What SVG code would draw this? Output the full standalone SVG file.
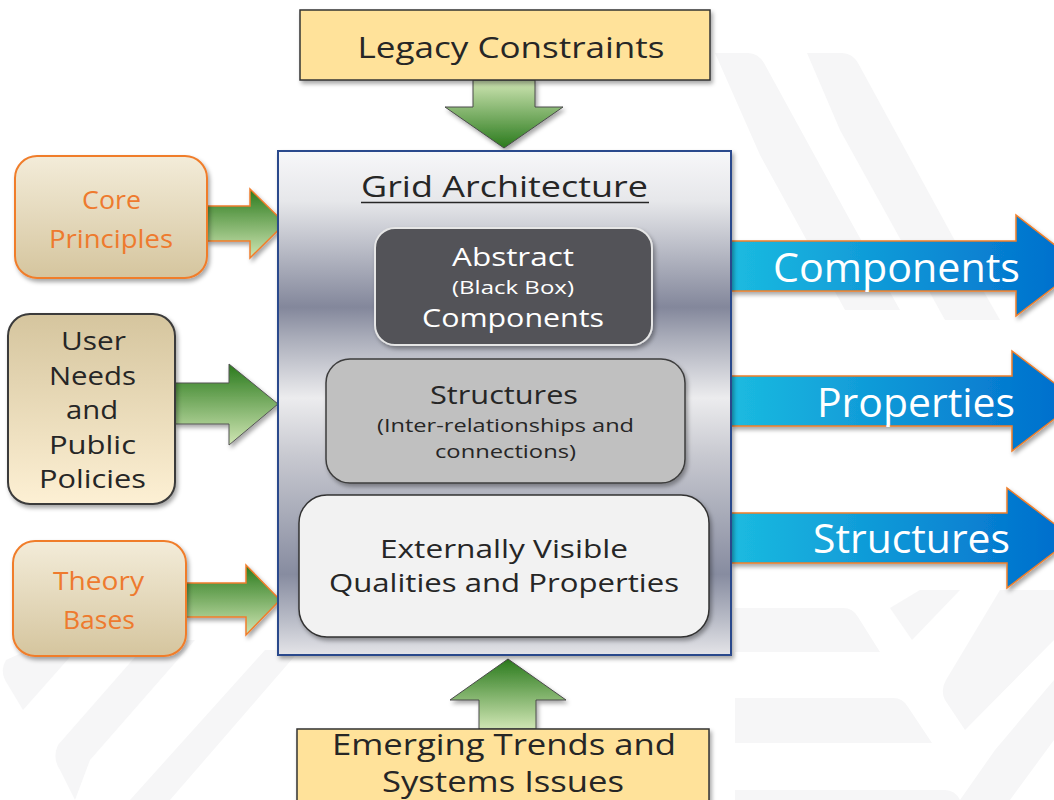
<svg xmlns="http://www.w3.org/2000/svg" width="1054" height="800" viewBox="0 0 1054 800">
<defs>
<style>
text{font-family:"Open Sans","Liberation Sans",sans-serif;}
.dark{fill:#262626;}
.org{fill:#EE7A2E;}
.wht{fill:#ffffff;}
.wm{fill:#f6f6f7;}
.blue{fill:url(#gBlue);stroke:#F07F2A;stroke-width:1.5;filter:url(#sh);}
.ylw{fill:#FFE29A;stroke:#333;stroke-width:1.5;filter:url(#sh);}
</style>
<filter id="sh" x="-10%" y="-10%" width="130%" height="140%">
<feDropShadow dx="2" dy="3" stdDeviation="2" flood-color="#000" flood-opacity="0.35"/>
</filter>
<linearGradient id="gMain" x1="0" y1="0" x2="0" y2="1">
<stop offset="0" stop-color="#f7f7f9"/>
<stop offset="0.1" stop-color="#e6e7ea"/>
<stop offset="0.31" stop-color="#83879b"/>
<stop offset="0.37" stop-color="#a9acb9"/>
<stop offset="0.49" stop-color="#ececee"/>
<stop offset="0.6" stop-color="#c9cad1"/>
<stop offset="0.84" stop-color="#878ca0"/>
<stop offset="0.93" stop-color="#b9bcc7"/>
<stop offset="1" stop-color="#e4e4e8"/>
</linearGradient>
<linearGradient id="gBlue" x1="0" y1="0" x2="1" y2="0">
<stop offset="0" stop-color="#1bbbe0"/>
<stop offset="1" stop-color="#006bcc"/>
</linearGradient>
<linearGradient id="gGreenDown" x1="0" y1="0" x2="0" y2="1">
<stop offset="0" stop-color="#d0e6b4"/>
<stop offset="1" stop-color="#2a7a1c"/>
</linearGradient>
<linearGradient id="gGreenUp" x1="0" y1="0" x2="0" y2="1">
<stop offset="0" stop-color="#2a7a1c"/>
<stop offset="1" stop-color="#d0e6b4"/>
</linearGradient>
<linearGradient id="gTan" x1="0" y1="0" x2="0" y2="1">
<stop offset="0" stop-color="#f3ecd9"/>
<stop offset="1" stop-color="#d5c59e"/>
</linearGradient>
<linearGradient id="gTanInv" x1="0" y1="0" x2="0" y2="1">
<stop offset="0" stop-color="#d5c59e"/>
<stop offset="1" stop-color="#fdf0d4"/>
</linearGradient>
</defs>
<rect width="1054" height="800" fill="#ffffff"/>
<g id="watermark">
<path class="wm" d="M715,53 H748 Q758,53 764,63 L850,220 L900,310 H845 L760,155 Z"/>
<path class="wm" d="M807,53 H842 Q852,53 858,63 L960,250 L1000,320 H945 L840,130 Z"/>
<path class="wm" d="M735,608 H843 Q853,608 858,617 L880,652 H735 Z"/>
<path class="wm" d="M735,698 H893 Q903,698 908,707 L932,743 H735 Z"/>
<path class="wm" d="M735,790 H945 Q955,790 960,800 H735 Z"/>
<path class="wm" d="M920,590 L960,590 L912,640 L890,608 Z"/>
<path class="wm" d="M1000,590 L1054,590 L1054,640 L965,730 L945,700 Q940,690 946,680 Z"/>
<path class="wm" d="M1054,680 L1054,740 L1010,800 L960,800 L995,750 Z"/>
<path class="wm" d="M50,640 L85,640 L23,710 L5,680 Q0,670 6,660 Z"/>
<path class="wm" d="M150,640 L195,640 L90,760 L75,800 L60,770 Q52,758 58,745 Z"/>
<path class="wm" d="M265,650 L300,650 L170,800 L130,800 Z"/>
</g>
<g id="connectors">
<path id="arrow-legacy" d="M473,80 H535 V107 H563 L504,148 L445,107 H473 Z" fill="url(#gGreenDown)" stroke="#4a4a4a" stroke-width="1" filter="url(#sh)"/>
<path id="arrow-emerging" d="M479,729 V700 H450 L508,659 L566,700 H536 V729 Z" fill="url(#gGreenUp)" stroke="#4a4a4a" stroke-width="1" filter="url(#sh)"/>
<path id="arrow-core" d="M207,206 H250 V189 L285,223.5 L250,258 V241 H207 Z" fill="url(#gGreenUp)" stroke="#F07D2B" stroke-width="1.5" filter="url(#sh)"/>
<path id="arrow-user" d="M175,383 H229 V364 L278,404 L229,445 V424 H175 Z" fill="url(#gGreenUp)" stroke="#555" stroke-width="1" filter="url(#sh)"/>
<path id="arrow-theory" d="M186,583 H246 V565 L280,600 L246,635 V617 H186 Z" fill="url(#gGreenUp)" stroke="#F07D2B" stroke-width="1.5" filter="url(#sh)"/>
</g>
<g id="out-components">
<path class="blue" d="M731,241 H1016 V215 L1082,266 L1016,316 V291 H731 Z"/>
<text class="wht" x="896.5" y="282" font-size="40" text-anchor="middle" textLength="247" lengthAdjust="spacingAndGlyphs">Components</text>
</g>
<g id="out-properties">
<path class="blue" d="M731,376 H1012 V351 L1078,401 L1012,451 V426 H731 Z"/>
<text class="wht" x="916" y="417" font-size="40" text-anchor="middle" textLength="198" lengthAdjust="spacingAndGlyphs">Properties</text>
</g>
<g id="out-structures">
<path class="blue" d="M731,513 H1007 V488 L1073,538 L1007,588 V563 H731 Z"/>
<text class="wht" x="911.5" y="553" font-size="40" text-anchor="middle" textLength="197" lengthAdjust="spacingAndGlyphs">Structures</text>
</g>
<g id="legacy">
<rect class="ylw" x="300" y="10" width="410" height="70"/>
<text class="dark" x="511" y="58" font-size="30" text-anchor="middle" textLength="307" lengthAdjust="spacingAndGlyphs">Legacy Constraints</text>
</g>
<g id="emerging">
<rect class="ylw" x="297" y="729" width="412" height="85"/>
<text class="dark" x="504" y="755" font-size="30" text-anchor="middle" textLength="344" lengthAdjust="spacingAndGlyphs">Emerging Trends and</text>
<text class="dark" x="503" y="792" font-size="30" text-anchor="middle" textLength="242" lengthAdjust="spacingAndGlyphs">Systems Issues</text>
</g>
<g id="core-principles">
<rect x="15" y="156" width="192" height="122" rx="22" fill="url(#gTan)" stroke="#F07D2B" stroke-width="2" filter="url(#sh)"/>
<text class="org" x="111.5" y="209" font-size="26" text-anchor="middle" textLength="59" lengthAdjust="spacingAndGlyphs">Core</text>
<text class="org" x="111" y="248" font-size="26" text-anchor="middle" textLength="124" lengthAdjust="spacingAndGlyphs">Principles</text>
</g>
<g id="user-needs">
<rect x="8" y="314" width="167" height="190" rx="22" fill="url(#gTanInv)" stroke="#3a3a3a" stroke-width="2" filter="url(#sh)"/>
<text class="dark" x="93.5" y="350" font-size="25" text-anchor="middle" textLength="65" lengthAdjust="spacingAndGlyphs">User</text>
<text class="dark" x="92.5" y="385" font-size="25" text-anchor="middle" textLength="87" lengthAdjust="spacingAndGlyphs">Needs</text>
<text class="dark" x="92" y="419" font-size="25" text-anchor="middle" textLength="52" lengthAdjust="spacingAndGlyphs">and</text>
<text class="dark" x="92.5" y="454" font-size="25" text-anchor="middle" textLength="87" lengthAdjust="spacingAndGlyphs">Public</text>
<text class="dark" x="92.5" y="488" font-size="25" text-anchor="middle" textLength="107" lengthAdjust="spacingAndGlyphs">Policies</text>
</g>
<g id="theory-bases">
<rect x="13" y="541" width="173" height="115" rx="22" fill="url(#gTan)" stroke="#F07D2B" stroke-width="2" filter="url(#sh)"/>
<text class="org" x="98.5" y="590" font-size="26" text-anchor="middle" textLength="91" lengthAdjust="spacingAndGlyphs">Theory</text>
<text class="org" x="99" y="629" font-size="26" text-anchor="middle" textLength="72" lengthAdjust="spacingAndGlyphs">Bases</text>
</g>
<g id="grid-architecture">
<rect x="278" y="151" width="453" height="504" fill="url(#gMain)" stroke="#2c4a8c" stroke-width="2" filter="url(#sh)"/>
<text class="dark" x="504.5" y="197" font-size="29" text-anchor="middle" textLength="287" lengthAdjust="spacingAndGlyphs">Grid Architecture</text>
<line x1="361" y1="202.5" x2="649" y2="202.5" stroke="#262626" stroke-width="1.5"/>
</g>
<g id="abstract-components">
<rect x="375" y="228" width="277" height="117" rx="20" fill="#525358" stroke="#e6e6e6" stroke-width="2" filter="url(#sh)"/>
<text class="wht" x="513" y="266" font-size="25" text-anchor="middle" textLength="122" lengthAdjust="spacingAndGlyphs">Abstract</text>
<text class="wht" x="513" y="294" font-size="18" text-anchor="middle" textLength="122" lengthAdjust="spacingAndGlyphs">(Black Box)</text>
<text class="wht" x="513" y="327" font-size="25" text-anchor="middle" textLength="182" lengthAdjust="spacingAndGlyphs">Components</text>
</g>
<g id="structures">
<rect x="326" y="359" width="359" height="124" rx="24" fill="#c0c0c0" stroke="#3d3d3d" stroke-width="1.5" filter="url(#sh)"/>
<text class="dark" x="504" y="404" font-size="25" text-anchor="middle" textLength="148" lengthAdjust="spacingAndGlyphs">Structures</text>
<text class="dark" x="505.5" y="432" font-size="18" text-anchor="middle" textLength="257" lengthAdjust="spacingAndGlyphs">(Inter-relationships and</text>
<text class="dark" x="505.5" y="458" font-size="18" text-anchor="middle" textLength="141" lengthAdjust="spacingAndGlyphs">connections)</text>
</g>
<g id="qualities">
<rect x="299" y="495" width="410" height="142" rx="28" fill="#f2f2f2" stroke="#333" stroke-width="1.5" filter="url(#sh)"/>
<text class="dark" x="504" y="558" font-size="25" text-anchor="middle" textLength="248" lengthAdjust="spacingAndGlyphs">Externally Visible</text>
<text class="dark" x="504" y="592" font-size="25" text-anchor="middle" textLength="350" lengthAdjust="spacingAndGlyphs">Qualities and Properties</text>
</g>
</svg>
